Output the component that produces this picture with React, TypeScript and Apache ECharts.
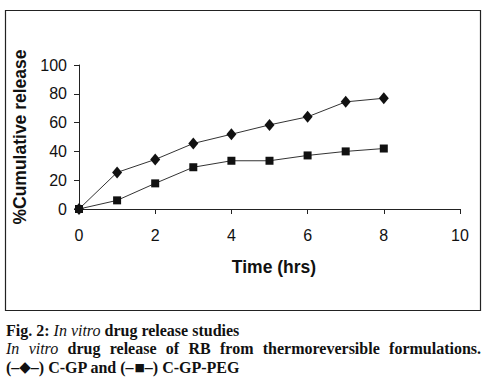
import React, { useEffect, useRef } from "react";
import * as echarts from "echarts";

const timeHrs = [0, 1, 2, 3, 4, 5, 6, 7, 8];
const cgpRelease = [0, 25.4, 34.4, 45.5, 51.9, 58.4, 64, 74.4, 76.9];
const cgpPegRelease = [0, 6, 17.8, 29, 33.5, 33.5, 37.2, 40, 42];
const xTicks = [0, 2, 4, 6, 8, 10];
const yTicks = [0, 20, 40, 60, 80, 100];
const captionLine2Words = ["drug", "release", "of", "RB", "from", "thermoreversible", "formulations."];

export default function App() {
  const ref = useRef<HTMLDivElement>(null);
  useEffect(() => {
    document.body.style.margin = "0";
    const chart = echarts.init(ref.current!, null, { renderer: "svg" });
    const axisColor = "#222";
    const serif = "Liberation Serif, DejaVu Serif, serif";
    const line2 = "{i|In}{s| }{i|vitro}" + captionLine2Words.map((w) => "{s| }{b|" + w + "}").join("");
    chart.setOption({
      animation: false,
      backgroundColor: "#fff",
      grid: { left: 79, right: 31, top: 65, bottom: 178 },
      xAxis: {
        type: "value",
        min: xTicks[0],
        max: xTicks[xTicks.length - 1],
        interval: 2,
        name: "Time (hrs)",
        nameLocation: "middle",
        nameGap: 49,
        nameTextStyle: { fontFamily: "Liberation Sans, Arial", fontWeight: "bold", fontSize: 17.5, color: "#111", padding: [0, 0, 0, 9] },
        axisLine: { lineStyle: { color: axisColor, width: 1 } },
        axisTick: { show: true, length: 5, lineStyle: { color: axisColor } },
        axisLabel: { fontFamily: "Liberation Sans, Arial", fontSize: 16, color: "#111", margin: 18 },
        splitLine: { show: false },
      },
      yAxis: {
        type: "value",
        min: yTicks[0],
        max: yTicks[yTicks.length - 1],
        interval: 20,
        name: "%Cumulative release",
        nameLocation: "middle",
        nameGap: 45,
        nameTextStyle: { fontFamily: "Liberation Sans, Arial", fontWeight: "bold", fontSize: 17.5, color: "#111" },
        axisLine: { show: true, lineStyle: { color: axisColor, width: 1 } },
        axisTick: { show: true, length: 5, lineStyle: { color: axisColor } },
        axisLabel: { fontFamily: "Liberation Sans, Arial", fontSize: 16, color: "#111", margin: 12 },
        splitLine: { show: false },
      },
      series: [
        {
          name: "C-GP",
          type: "line",
          data: timeHrs.map((t, i) => [t, cgpRelease[i]]),
          symbol: "diamond",
          symbolSize: [10, 12],
          itemStyle: { color: "#111" },
          lineStyle: { color: "#333", width: 1 },
        },
        {
          name: "C-GP-PEG",
          type: "line",
          data: timeHrs.map((t, i) => [t, cgpPegRelease[i]]),
          symbol: "rect",
          symbolSize: 8,
          itemStyle: { color: "#111" },
          lineStyle: { color: "#333", width: 1 },
        },
      ],
      graphic: [
        {
          type: "rect",
          shape: { x: 5.5, y: 10.5, width: 475, height: 300 },
          style: { fill: "none", stroke: "#222", lineWidth: 1.2 },
          silent: true,
        },
        {
          type: "text",
          left: 6,
          top: 321,
          style: {
            text: "{b|Fig. 2: }{i|In vitro}{b| drug release studies}\n" + line2 + "\n{b|(–}{m|◆}{b|–) C-GP and (–}{sq|■}{b|–) C-GP-PEG}",
            fill: "#111",
            lineHeight: 18.5,
            rich: {
              b: { fontFamily: serif, fontWeight: "bold", fontSize: 16, fill: "#111", lineHeight: 18.5 },
              i: { fontFamily: serif, fontStyle: "italic", fontSize: 16, fill: "#111", lineHeight: 18.5 },
              s: { fontFamily: serif, fontSize: 16, width: 9.3, lineHeight: 18.5 },
              m: { fontFamily: "DejaVu Sans, sans-serif", fontSize: 15, fill: "#111", lineHeight: 18.5 },
              sq: { fontFamily: "DejaVu Sans, sans-serif", fontSize: 11, fill: "#111", lineHeight: 18.5 },
            },
          },
        },
      ],
    });
    return () => chart.dispose();
  }, []);
  return <div ref={ref} style={{ position: "absolute", left: 0, top: 0, width: 491, height: 387 }} />;
}
